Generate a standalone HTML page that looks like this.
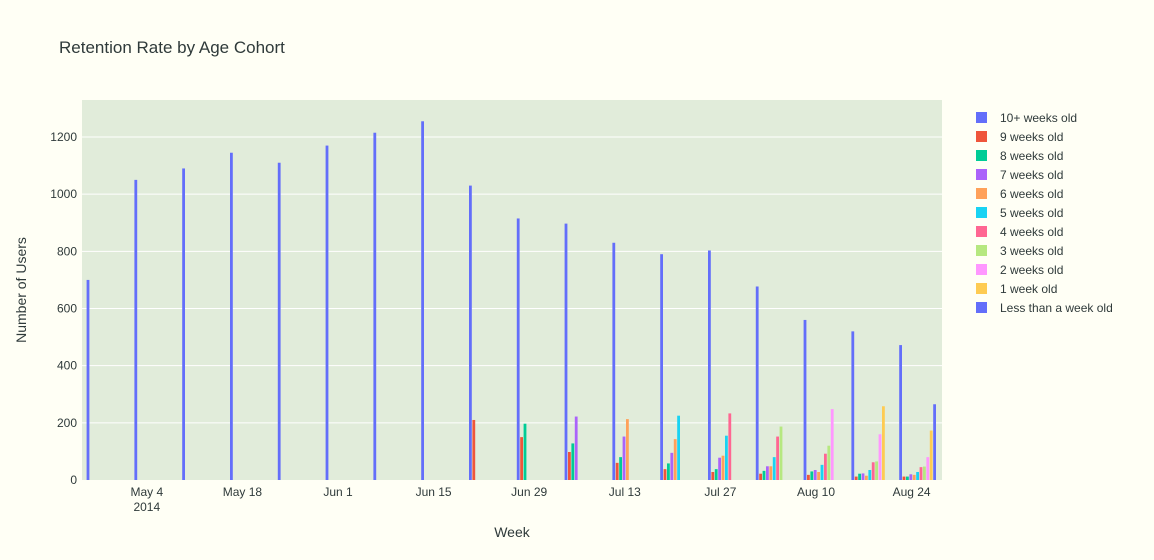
<!DOCTYPE html>
<html><head><meta charset="utf-8"><style>
body{margin:0;background:#fffff5;}
svg{display:block;font-family:"Liberation Sans",sans-serif;}
</style></head><body>
<svg id="chart" width="1154" height="560" xmlns="http://www.w3.org/2000/svg">
<rect width="1154" height="560" fill="#fffff5"/>
<text x="59" y="53" font-size="17" fill="#2f3a3a">Retention Rate by Age Cohort</text>
<rect x="82" y="100" width="860" height="380" fill="#e1ecda"/>
<g id="grid"></g><g id="bars"></g><g id="axes"></g><g id="legend"></g>
<text x="512" y="537" font-size="14" fill="#2f3a3a" text-anchor="middle">Week</text>
<text transform="translate(26,290) rotate(-90)" font-size="14" fill="#2f3a3a" text-anchor="middle">Number of Users</text>
</svg>
<script>
const weeks=["Apr 27","May 4","May 11","May 18","May 25","Jun 1","Jun 8","Jun 15","Jun 22","Jun 29","Jul 6","Jul 13","Jul 20","Jul 27","Aug 3","Aug 10","Aug 17","Aug 24"];
const seriesNames=["10+ weeks old","9 weeks old","8 weeks old","7 weeks old","6 weeks old","5 weeks old","4 weeks old","3 weeks old","2 weeks old","1 week old","Less than a week old"];
const colors=["#636efa","#EF553B","#00cc96","#ab63fa","#FFA15A","#19d3f3","#FF6692","#B6E880","#FF97FF","#FECB52","#636efa"];
const s10=[700,1050,1090,1145,1110,1170,1215,1255,1030,915,897,830,790,803,677,560,520,472];
const s9=[0,0,0,0,0,0,0,0,210,150,98,60,38,28,22,18,12,12];
const s8=[0,0,0,0,0,0,0,0,0,197,128,80,58,38,32,30,22,12];
const s7=[0,0,0,0,0,0,0,0,0,0,222,152,95,78,48,35,23,20];
const s6=[0,0,0,0,0,0,0,0,0,0,0,213,143,85,48,28,15,18];
const s5=[0,0,0,0,0,0,0,0,0,0,0,0,225,155,80,53,35,28];
const s4=[0,0,0,0,0,0,0,0,0,0,0,0,0,233,152,92,62,45];
const s3=[0,0,0,0,0,0,0,0,0,0,0,0,0,0,187,120,65,47];
const s2=[0,0,0,0,0,0,0,0,0,0,0,0,0,0,0,248,160,80];
const s1=[0,0,0,0,0,0,0,0,0,0,0,0,0,0,0,0,258,173];
const s0=[0,0,0,0,0,0,0,0,0,0,0,0,0,0,0,0,0,265];
const yTicks=[0,200,400,600,800,1000,1200];
const xTickLabels=["May 4","May 18","Jun 1","Jun 15","Jun 29","Jul 13","Jul 27","Aug 10","Aug 24"];
const xTickWeek=[1,3,5,7,9,11,13,15,17];

const series=[s10,s9,s8,s7,s6,s5,s4,s3,s2,s1,s0];
const NS="http://www.w3.org/2000/svg";
function mk(t,a,p){const e=document.createElementNS(NS,t);for(const k in a)e.setAttribute(k,a[k]);p.appendChild(e);return e;}
const y=v=>480-v*0.28583;
const weekX=i=>88+i*47.8;
const barX=(i,k)=>weekX(i)+k*3.4;
const grid=document.getElementById('grid'),bars=document.getElementById('bars'),axes=document.getElementById('axes'),leg=document.getElementById('legend');
const tc='#2f3a3a';
yTicks.forEach(v=>{
  if(v>0){const l=mk('line',{x1:82,x2:942,y1:y(v),y2:y(v),stroke:'#fff','stroke-width':1},grid);
  
  }
  const t=mk('text',{x:77,y:y(v)+4,'font-size':12,fill:tc,'text-anchor':'end'},axes);t.textContent=v;
  
  
});
xTickWeek.forEach((w,j)=>{
  const t=mk('text',{x:weekX(w)+11,y:496,'font-size':12,fill:tc,'text-anchor':'middle'},axes);t.textContent=xTickLabels[j];
  
  
});
const yr=mk('text',{x:weekX(1)+11,y:511,'font-size':12,fill:tc,'text-anchor':'middle'},axes);yr.textContent='2014';


series.forEach((s,k)=>{s.forEach((v,i)=>{if(!v)return;
  const r=mk('rect',{x:barX(i,k)-1.4,y:y(v),width:2.8,height:480-y(v),fill:colors[k]},bars);
  
  
});});
seriesNames.forEach((n,k)=>{
  const g=mk('g',{},leg);
  
  
  const yy=118+k*19;
  mk('rect',{x:976,y:yy-6,width:11,height:11,fill:colors[k]},g);
  const t=mk('text',{x:1000,y:yy+4,'font-size':12,fill:tc},g);t.textContent=n;
});
</script>
</body></html>
